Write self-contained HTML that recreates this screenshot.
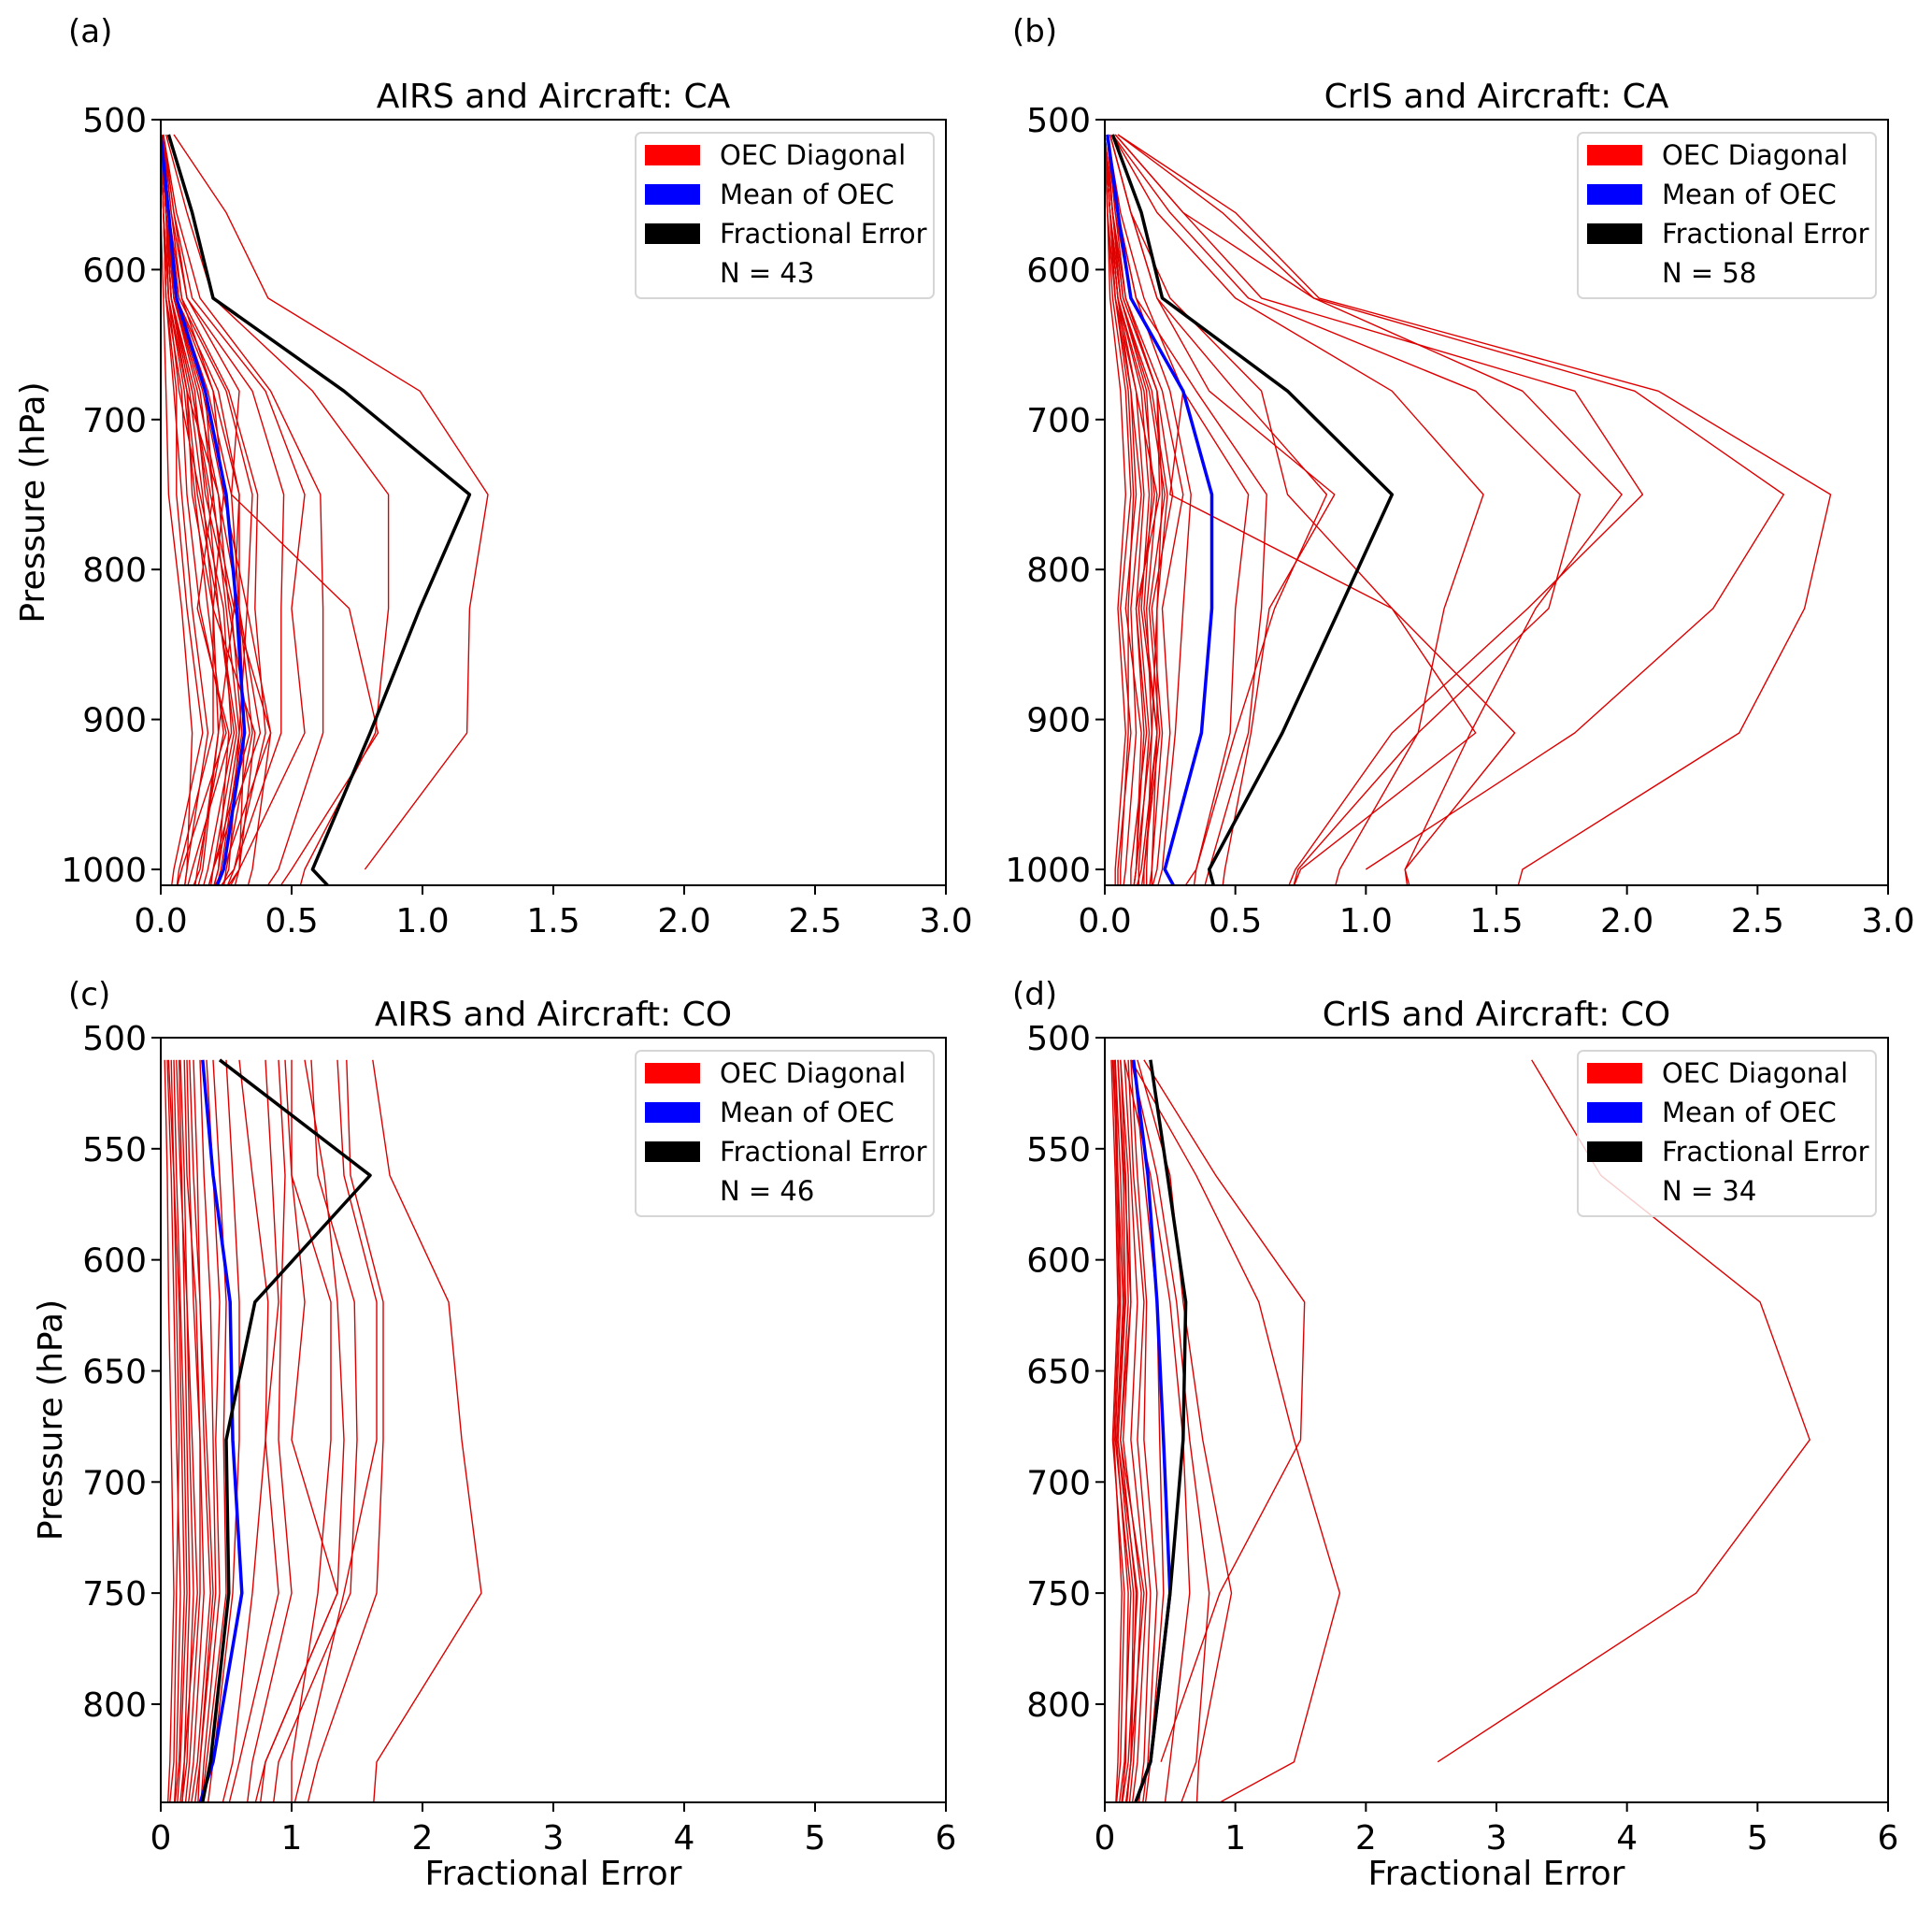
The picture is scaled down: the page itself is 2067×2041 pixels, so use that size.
<!DOCTYPE html>
<html><head><meta charset="utf-8"><style>
html,body{margin:0;padding:0;background:#fff;}
svg{display:block;font-family:"DejaVu Sans","Liberation Sans",sans-serif;}
</style></head><body>
<svg id="fig" width="2067" height="2041" viewBox="0 0 2067 2041" xmlns="http://www.w3.org/2000/svg"></svg>
<script>
// ---- data ----
const levelsTop = [510,562,619,681,750,826,909,1000,1013];
const levelsBot = [510,562,619,681,750,826,850];
const xTicksTop = [0,0.5,1,1.5,2,2.5,3];
const xTickLabelsTop = ["0.0","0.5","1.0","1.5","2.0","2.5","3.0"];
const yTicksTop = [500,600,700,800,900,1000];
const xTicksBot = [0,1,2,3,4,5,6];
const xTickLabelsBot = ["0","1","2","3","4","5","6"];
const yTicksBot = [500,550,600,650,700,750,800];
const titles = ["AIRS and Aircraft: CA","CrIS and Aircraft: CA","AIRS and Aircraft: CO","CrIS and Aircraft: CO"];
const panelLetters = ["(a)","(b)","(c)","(d)"];
const counts = [43,58,46,34];

const blackA = [0.03,0.12,0.2,0.7,1.18,0.99,0.8,0.58,0.65];
const blueA  = [0.0,0.03,0.06,0.17,0.25,0.29,0.32,0.24,0.21];
const redA = [
[0.05,0.25,0.41,0.99,1.25,1.18,1.17,0.78,null],
[0.02,0.1,0.2,0.58,0.87,0.87,0.82,0.55,0.53],
[0.01,0.05,0.1,0.3,0.27,0.72,0.83,0.5,0.45],
[0.01,0.06,0.15,0.42,0.61,0.62,0.62,0.45,0.4],
[0.01,0.05,0.12,0.4,0.55,0.5,0.55,0.3,0.25],
[0.01,0.04,0.1,0.35,0.47,0.46,0.46,0.28,0.25],
[0.0,0.03,0.08,0.26,0.37,0.36,0.4,0.28,0.22],
[0.0,0.03,0.07,0.25,0.35,0.33,0.42,0.24,0.2],
[0.0,0.02,0.06,0.22,0.3,0.3,0.38,0.2,0.18],
[0.01,0.02,0.03,0.1,0.12,0.2,0.22,0.15,0.12],
[0.0,0.01,0.02,0.08,0.1,0.15,0.25,0.08,0.06],
[0.0,0.02,0.04,0.12,0.18,0.22,0.28,0.18,0.16],
[0.01,0.03,0.05,0.15,0.2,0.25,0.3,0.22,0.2],
[0.0,0.01,0.02,0.05,0.08,0.12,0.18,0.1,0.09],
[0.0,0.02,0.04,0.1,0.22,0.3,0.35,0.25,0.24],
[0.01,0.03,0.06,0.18,0.27,0.3,0.32,0.3,0.28],
[0.0,0.01,0.03,0.07,0.15,0.24,0.27,0.12,0.1],
[0.0,0.02,0.05,0.14,0.22,0.26,0.34,0.2,0.18],
[0.0,0.01,0.02,0.06,0.06,0.1,0.16,0.05,0.04],
[0.01,0.04,0.08,0.2,0.3,0.28,0.42,0.35,0.33],
[0.0,0.02,0.04,0.11,0.16,0.2,0.2,0.07,0.06],
[0.0,0.03,0.05,0.16,0.24,0.33,0.3,0.26,0.23],
[0.0,0.01,0.03,0.09,0.13,0.18,0.24,0.14,0.13],
[0.0,0.0,0.01,0.02,0.03,0.08,0.12,0.1,0.09],
[0.0,0.02,0.05,0.17,0.2,0.14,0.26,0.22,0.2],
[0.01,0.03,0.06,0.2,0.24,0.2,0.36,0.3,0.26],
[0.0,0.02,0.04,0.12,0.19,0.28,0.22,0.16,0.14],
[0.0,0.01,0.03,0.1,0.14,0.22,0.29,0.2,0.19],
[0.0,0.02,0.04,0.13,0.17,0.27,0.31,0.23,0.21]
];

const blackB = [0.03,0.14,0.22,0.7,1.1,0.9,0.68,0.4,0.42];
const blueB  = [0.01,0.05,0.1,0.3,0.41,0.41,0.37,0.23,0.27];
const redB = [
[0.05,0.5,0.82,2.12,2.78,2.68,2.43,1.6,1.58],
[0.05,0.45,0.8,2.03,2.6,2.33,1.8,1.0,null],
[0.04,0.3,0.6,1.8,2.06,1.62,1.1,0.73,0.7],
[0.04,0.3,0.8,1.6,1.98,1.65,1.4,1.15,1.17],
[0.03,0.25,0.55,1.42,1.82,1.7,1.2,0.74,0.72],
[0.03,0.2,0.5,1.1,1.45,1.3,1.2,0.9,0.88],
[0.02,0.1,0.25,0.6,0.7,1.1,1.57,1.15,1.16],
[0.02,0.1,0.2,0.5,0.85,0.65,0.5,0.35,0.3],
[0.02,0.1,0.2,0.4,0.88,0.63,0.56,0.46,0.45],
[0.01,0.06,0.15,0.3,0.25,1.1,1.42,0.75,0.72],
[0.01,0.05,0.12,0.35,0.62,0.6,0.55,0.4,0.38],
[0.01,0.04,0.1,0.3,0.55,0.5,0.48,0.35,0.34],
[0.0,0.03,0.08,0.2,0.22,0.2,0.2,0.15,0.14],
[0.0,0.02,0.05,0.12,0.15,0.12,0.16,0.1,0.1],
[0.0,0.02,0.06,0.16,0.18,0.15,0.2,0.14,0.12],
[0.0,0.01,0.03,0.08,0.1,0.06,0.1,0.05,0.05],
[0.0,0.03,0.07,0.2,0.26,0.18,0.22,0.18,0.17],
[0.0,0.02,0.05,0.1,0.14,0.1,0.12,0.08,0.07],
[0.0,0.01,0.04,0.12,0.2,0.16,0.18,0.12,0.11],
[0.01,0.04,0.08,0.22,0.3,0.22,0.25,0.2,0.18],
[0.0,0.02,0.04,0.1,0.12,0.08,0.14,0.12,0.11],
[0.0,0.01,0.02,0.06,0.08,0.05,0.08,0.04,0.04],
[0.0,0.03,0.06,0.18,0.24,0.2,0.18,0.16,0.16],
[0.0,0.02,0.05,0.14,0.17,0.14,0.2,0.18,0.18],
[0.01,0.03,0.07,0.2,0.21,0.12,0.15,0.12,0.11],
[0.0,0.02,0.04,0.09,0.11,0.09,0.09,0.06,0.06],
[0.01,0.05,0.12,0.25,0.33,0.3,0.27,0.22,0.2],
[0.0,0.02,0.05,0.15,0.19,0.13,0.17,0.13,0.13],
[0.0,0.03,0.06,0.17,0.23,0.17,0.21,0.15,0.15]
];

const blackC = [0.45,1.6,0.72,0.5,0.52,0.38,0.3];
const blueC  = [0.32,0.4,0.53,0.55,0.62,0.4,0.27];
const redC = [
[1.62,1.75,2.2,2.3,2.45,1.65,1.62],
[1.42,1.45,1.7,1.7,1.65,1.2,1.1],
[1.35,1.4,1.65,1.65,1.4,1.1,1.0],
[1.15,1.2,1.48,1.5,1.45,0.9,0.85],
[1.1,1.25,1.35,1.4,1.35,0.8,0.7],
[1.0,1.0,1.3,1.3,1.2,1.0,1.0],
[0.95,1.0,1.1,1.0,1.35,0.8,0.75],
[0.9,0.95,0.92,0.9,1.0,0.7,0.65],
[0.8,0.85,0.9,0.8,0.9,0.6,0.5],
[0.6,0.7,0.82,0.8,0.7,0.55,0.45],
[0.5,0.55,0.6,0.6,0.55,0.4,0.35],
[0.4,0.45,0.5,0.48,0.5,0.35,0.3],
[0.05,0.08,0.1,0.12,0.15,0.12,0.1],
[0.1,0.12,0.15,0.18,0.2,0.15,0.12],
[0.15,0.18,0.2,0.22,0.25,0.2,0.15],
[0.2,0.22,0.25,0.3,0.33,0.25,0.2],
[0.25,0.28,0.3,0.33,0.38,0.28,0.22],
[0.08,0.1,0.12,0.14,0.12,0.1,0.06],
[0.12,0.15,0.2,0.24,0.28,0.18,0.14],
[0.18,0.2,0.27,0.3,0.3,0.22,0.18],
[0.3,0.33,0.38,0.4,0.42,0.3,0.25],
[0.03,0.05,0.06,0.08,0.1,0.07,0.05],
[0.22,0.25,0.3,0.35,0.4,0.3,0.28],
[0.14,0.16,0.18,0.2,0.22,0.18,0.16],
[0.35,0.4,0.45,0.42,0.45,0.33,0.3],
[0.06,0.1,0.14,0.16,0.18,0.14,0.1]
];

const blackD = [0.35,0.48,0.62,0.6,0.5,0.35,0.2];
const blueD  = [0.22,0.33,0.4,0.45,0.5,0.35,0.2];
const redD = [
[3.27,3.8,5.02,5.4,4.53,2.55,null],
[0.3,0.85,1.53,1.5,0.88,0.43,null],
[0.2,0.7,1.18,1.45,1.8,1.45,0.7],
[0.25,0.5,0.6,0.75,0.97,0.72,0.7],
[0.2,0.4,0.55,0.65,0.8,0.7,0.55],
[0.15,0.35,0.5,0.6,0.65,0.5,0.45],
[0.1,0.15,0.2,0.12,0.3,0.2,0.15],
[0.08,0.12,0.15,0.1,0.25,0.18,0.12],
[0.12,0.18,0.2,0.14,0.28,0.22,0.18],
[0.06,0.1,0.12,0.08,0.2,0.15,0.1],
[0.15,0.2,0.25,0.2,0.32,0.25,0.2],
[0.05,0.08,0.1,0.06,0.15,0.12,0.08],
[0.1,0.14,0.16,0.1,0.22,0.2,0.15],
[0.18,0.22,0.3,0.25,0.35,0.3,0.25],
[0.08,0.1,0.14,0.09,0.18,0.16,0.12],
[0.2,0.25,0.32,0.3,0.4,0.33,0.28],
[0.12,0.16,0.18,0.12,0.24,0.2,0.16],
[0.07,0.09,0.11,0.07,0.13,0.1,0.08],
[0.22,0.3,0.4,0.42,0.45,0.35,0.3]
];

// ---- layout ----
const NS = "http://www.w3.org/2000/svg";
const svg = document.getElementById("fig");
function el(tag, attrs, parent){
  const e = document.createElementNS(NS, tag);
  for (const k in attrs) e.setAttribute(k, attrs[k]);
  (parent||svg).appendChild(e);
  return e;
}
const panels = [
  {x0:172,x1:1012,y0:128,y1:947,xmax:3,ymin:500,ymax:1010.6,levels:levelsTop,xt:xTicksTop,xl:xTickLabelsTop,yt:yTicksTop,red:redA,blue:blueA,black:blackA,ylabX:37,xlabel:false,letterY:45},
  {x0:1182,x1:2020,y0:128,y1:947,xmax:3,ymin:500,ymax:1010.6,levels:levelsTop,xt:xTicksTop,xl:xTickLabelsTop,yt:yTicksTop,red:redB,blue:blueB,black:blackB,ylabX:null,xlabel:false,letterY:45},
  {x0:172,x1:1012,y0:1110,y1:1928,xmax:6,ymin:500,ymax:844.2,levels:levelsBot,xt:xTicksBot,xl:xTickLabelsBot,yt:yTicksBot,red:redC,blue:blueC,black:blackC,ylabX:56,xlabel:true,letterY:1075},
  {x0:1182,x1:2020,y0:1110,y1:1928,xmax:6,ymin:500,ymax:844.2,levels:levelsBot,xt:xTicksBot,xl:xTickLabelsBot,yt:yTicksBot,red:redD,blue:blueD,black:blackD,ylabX:null,xlabel:true,letterY:1075}
];

panels.forEach((p, i) => {
  const g = el("g", {});
  
  
  const sx = v => p.x0 + v / p.xmax * (p.x1 - p.x0);
  const sy = v => p.y0 + (v - p.ymin) / (p.ymax - p.ymin) * (p.y1 - p.y0);
  const cid = "clip" + i;
  const cp = el("clipPath", {id: cid}, g);
  el("rect", {x:p.x0, y:p.y0, width:p.x1-p.x0, height:p.y1-p.y0}, cp);
  const lines = el("g", {"clip-path": "url(#"+cid+")"}, g);
  function drawLine(vals, color, w, name){
    let d = "";
    let started = false;
    vals.forEach((v, k) => {
      if (v === null || v === undefined) return;
      d += (started ? "L" : "M") + sx(v).toFixed(1) + "," + sy(p.levels[k]).toFixed(1);
      started = true;
    });
    const path = el("path", {d:d, fill:"none", stroke:color, "stroke-width":w, "stroke-linejoin":"round"}, lines);
    
    
  }
  p.red.forEach((r, k) => drawLine(r, "#dd0000", 1.4, "oec-diagonal-line"));
  drawLine(p.blue, "#0000ff", 3.5, "mean-of-oec-line");
  drawLine(p.black, "#000000", 3.5, "fractional-error-line");
  const fr = el("rect", {x:p.x0, y:p.y0, width:p.x1-p.x0, height:p.y1-p.y0, fill:"none", stroke:"#000", "stroke-width":2}, g);
  
  
  p.xt.forEach((t, k) => {
    const x = sx(t);
    el("line", {x1:x, x2:x, y1:p.y1, y2:p.y1+10, stroke:"#000", "stroke-width":2}, g);
    const tx = el("text", {x:x, y:p.y1+50, "font-size":36, "text-anchor":"middle"}, g);
    tx.textContent = p.xl[k];
    
    
  });
  p.yt.forEach(t => {
    const y = sy(t);
    el("line", {x1:p.x0-10, x2:p.x0, y1:y, y2:y, stroke:"#000", "stroke-width":2}, g);
    const ty = el("text", {x:p.x0-15, y:y+13, "font-size":36, "text-anchor":"end"}, g);
    ty.textContent = String(t);
    
    
  });
  const title = el("text", {x:(p.x0+p.x1)/2, y:p.y0-13, "font-size":36, "text-anchor":"middle"}, g);
  title.textContent = titles[i];
  
  
  const lt = el("text", {x:p.x0-99, y:p.letterY, "font-size":34}, g);
  lt.textContent = panelLetters[i];
  
  
  if (p.ylabX !== null) {
    const cy = (p.y0+p.y1)/2;
    const yl = el("text", {x:p.ylabX, y:cy, "font-size":36, "text-anchor":"middle", transform:"rotate(-90 "+p.ylabX+" "+cy+")", "dominant-baseline":"middle"}, g);
    yl.textContent = "Pressure (hPa)";
    
    
  }
  if (p.xlabel) {
    const xl = el("text", {x:(p.x0+p.x1)/2, y:2016, "font-size":36, "text-anchor":"middle"}, g);
    xl.textContent = "Fractional Error";
    
    
  }
  const lg = el("g", {}, g);
  
  
  const lx = p.x1 - 332, ly = p.y0 + 14;
  el("rect", {x:lx, y:ly, width:319, height:177, rx:6, fill:"#fff", "fill-opacity":0.8, stroke:"#d6d6d6", "stroke-width":2}, lg);
  const entries = [["#ff0000","OEC Diagonal"],["#0000ff","Mean of OEC"],["#000000","Fractional Error"]];
  entries.forEach((e, k) => {
    const cy = ly + 24 + k*42;
    const sw = el("rect", {x:lx+10, y:cy-11, width:59, height:22, fill:e[0]}, lg);
    
    
    const tt = el("text", {x:lx+90, y:cy+10, "font-size":29}, lg);
    tt.textContent = e[1];
    
    
  });
  const nt = el("text", {x:lx+90, y:ly+24+3*42+10, "font-size":29}, lg);
  nt.textContent = "N = " + counts[i];
  
  
});
</script>
</body></html>
